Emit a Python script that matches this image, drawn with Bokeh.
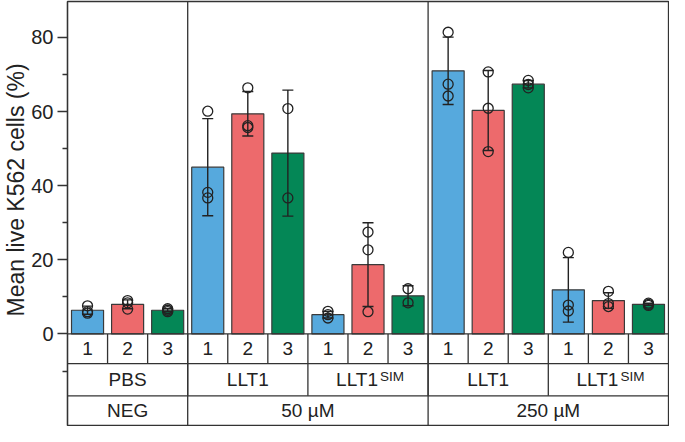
import numpy as np
from bokeh.plotting import figure
from bokeh.models import ColumnDataSource, FixedTicker, Span, Title
from bokeh.core.properties import value
from bokeh.embed import file_html
from bokeh.resources import INLINE

# ---------------- data ----------------
dose_groups = ["NEG", "50 µM", "250 µM"]
dose_bar_counts = [3, 6, 6]
treatments = [("PBS", ""), ("LLT1", ""), ("LLT1", "SIM"), ("LLT1", ""), ("LLT1", "SIM")]
replicates = ["1", "2", "3"]

means = [6.4, 8.0, 6.4, 45.0, 59.4, 48.8, 5.2, 18.7, 10.3, 71.0, 60.3, 67.4, 11.9, 9.0, 8.0]
sds = [1.1, 1.2, 0.4, 13.1, 6.0, 17.0, 0.9, 11.3, 2.7, 9.1, 10.8, 1.0, 8.7, 2.1, 0.3]
points = [
    [7.6, 6.0, 5.6],
    [9.0, 8.4, 6.7],
    [6.8, 6.4, 6.0],
    [60.1, 38.2, 36.7],
    [66.4, 56.2, 55.7],
    [60.8, 36.7],
    [6.1, 5.2, 4.3],
    [27.5, 22.7, 6.0],
    [12.2, 8.4],
    [81.4, 67.4, 64.2],
    [70.7, 60.9, 49.2],
    [68.4, 67.3, 66.4],
    [22.0, 7.8, 6.2],
    [11.5, 8.2, 7.4],
    [8.3, 8.0, 7.7],
]
bar_colors = ["#56a9dd", "#ed6a6c", "#048756"]
y_ticks = [0, 20, 40, 60, 80]
y_minor_ticks = [-10, 10, 30, 50, 70]
y_label = "Mean live K562 cells (%)"

# ---------------- layout constants ----------------
FONT = "Liberation Sans"
INK = "#222222"
LINE = "#333333"
Y_TOP = 89.7
ROW_EDGES = [0.0, -8.0, -16.7, -24.7]   # table rows below the axis

n = len(means)
xs = np.arange(1, n + 1)
colors = [bar_colors[i % 3] for i in range(n)]

bars = ColumnDataSource(dict(
    x=xs, top=means,
    hi=[m + s for m, s in zip(means, sds)],
    lo=[m - s for m, s in zip(means, sds)],
    color=colors,
))

px, py = [], []
for i, pts in enumerate(points):
    for v in pts:
        px.append(xs[i])
        py.append(v)

p = figure(width=669, height=426, output_backend="svg", toolbar_location=None,
           x_range=(0.5, n + 0.5), y_range=(ROW_EDGES[-1], Y_TOP),
           x_axis_location=None, min_border_left=64, min_border_right=1,
           min_border_top=1, min_border_bottom=1)
p.grid.visible = False
p.outline_line_color = LINE
p.outline_line_width = 1.3
p.background_fill_color = "white"
p.border_fill_color = "white"

# y axis
ax = p.yaxis[0]
ax.ticker = FixedTicker(ticks=y_ticks, minor_ticks=y_minor_ticks)
ax.major_tick_out = 10
ax.major_tick_in = 0
ax.minor_tick_out = 5
ax.minor_tick_in = 0
ax.axis_line_color = LINE
ax.axis_line_width = 1.3
ax.major_tick_line_color = LINE
ax.major_tick_line_width = 1.3
ax.minor_tick_line_color = LINE
ax.minor_tick_line_width = 1.3
ax.major_label_text_font = FONT
ax.major_label_text_font_size = "20px"
ax.major_label_text_color = INK
ax.major_label_standoff = 4

# y axis title, placed along the positive part of the axis
p.add_layout(Title(text=y_label, align="left", offset=109, text_font=FONT,
                   text_font_size="23px", text_font_style="normal",
                   text_color=INK, standoff=0), "left")

# bars
p.vbar(x="x", top="top", width=0.8, source=bars, fill_color="color",
       line_color="#3a3a3a", line_width=1.2)

# error bars
p.segment(x0="x", y0="lo", x1="x", y1="hi", source=bars, line_color=INK, line_width=1.4)
p.scatter(x="x", y="hi", source=bars, marker="dash", size=11, line_color=INK, line_width=1.4)
p.scatter(x="x", y="lo", source=bars, marker="dash", size=11, line_color=INK, line_width=1.4)

# individual points
p.scatter(px, py, marker="circle", size=10, fill_color=None, line_color=INK, line_width=1.3)

# ---------------- table below the axis ----------------
for yv in ROW_EDGES[:-1]:
    p.add_layout(Span(location=yv, dimension="width", line_color=LINE, line_width=1.3))

TXT = dict(text_font=value(FONT), text_font_size="19px", text_color=INK)

# row 1: replicate numbers
row1_y = (ROW_EDGES[0] + ROW_EDGES[1]) / 2
p.text(x=list(xs), y=[row1_y] * n, text=[replicates[i % 3] for i in range(n)],
       text_align="center", text_baseline="middle", **TXT)
p.segment(x0=list(xs[:-1] + 0.5), y0=[ROW_EDGES[0]] * (n - 1),
          x1=list(xs[:-1] + 0.5), y1=[ROW_EDGES[1]] * (n - 1),
          line_color=LINE, line_width=1.3)

# row 2: treatments
row2_y = (ROW_EDGES[1] + ROW_EDGES[2]) / 2
t_centers = [3 * k + 2 for k in range(len(treatments))]
plain_x = [c for c, t in zip(t_centers, treatments) if not t[1]]
plain_t = [t[0] for t in treatments if not t[1]]
sup_x = [c for c, t in zip(t_centers, treatments) if t[1]]
sup_base = [t[0] for t in treatments if t[1]]
sup_t = [t[1] for t in treatments if t[1]]
p.text(x=plain_x, y=[row2_y] * len(plain_x), text=plain_t, text_align="center",
       text_baseline="middle", **TXT)
p.text(x=sup_x, y=[row2_y] * len(sup_x), text=sup_base, text_align="right", x_offset=10,
       text_baseline="middle", **TXT)
p.text(x=sup_x, y=[row2_y + 0.9] * len(sup_x), text=sup_t, text_align="left", x_offset=12,
       text_baseline="alphabetic", text_font=value(FONT), text_font_size="13.5px",
       text_color=INK)
t_bounds = [3 * k + 3.5 for k in range(len(treatments) - 1)]
p.segment(x0=t_bounds, y0=[ROW_EDGES[1]] * len(t_bounds), x1=t_bounds,
          y1=[ROW_EDGES[2]] * len(t_bounds), line_color=LINE, line_width=1.3)

# row 3: doses
row3_y = (ROW_EDGES[2] + ROW_EDGES[3]) / 2
cum = np.cumsum([0] + dose_bar_counts)
d_centers = [(cum[k] + cum[k + 1]) / 2 + 0.5 for k in range(len(dose_groups))]
p.text(x=d_centers, y=[row3_y] * len(d_centers), text=dose_groups, text_align="center",
       text_baseline="middle", **TXT)
for b in cum[1:-1]:
    p.add_layout(Span(location=b + 0.5, dimension="height", line_color=LINE, line_width=1.3))

open("out.html", "w").write(file_html(p, INLINE))
